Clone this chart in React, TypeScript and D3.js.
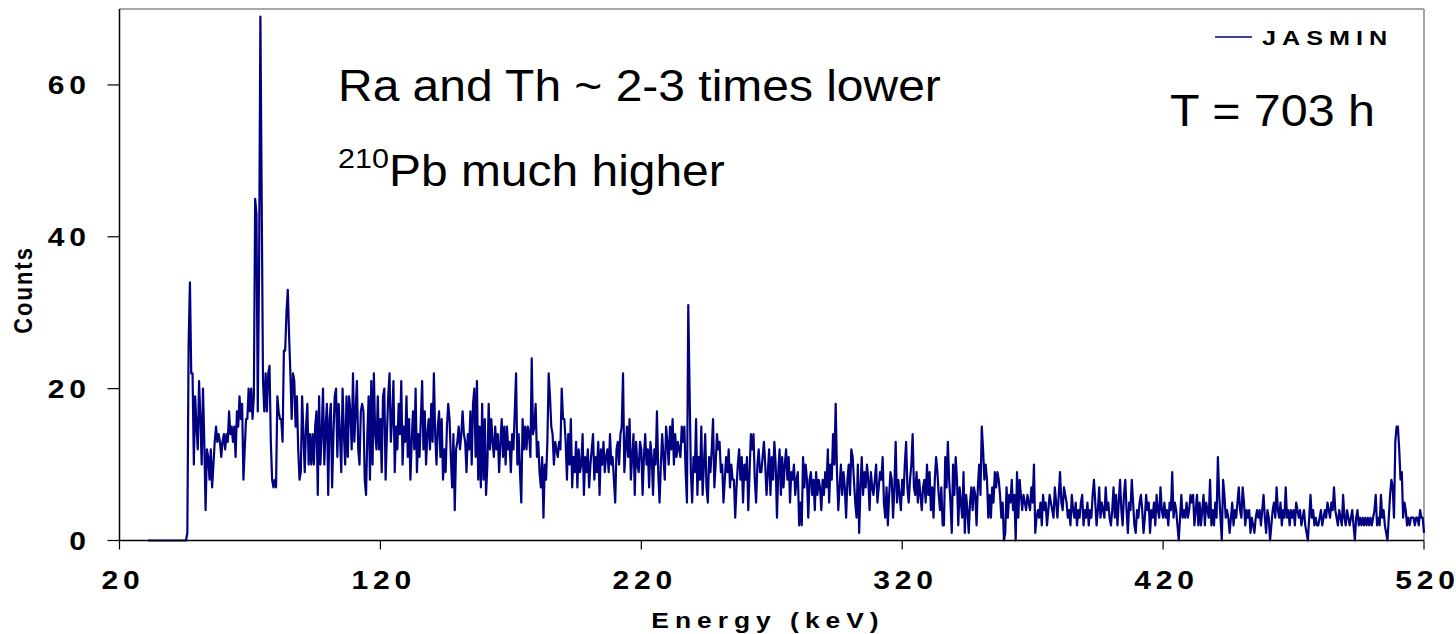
import React from "react";
import * as d3 from "d3";

const energyStart = 31;
const energyStep = 0.5;

// counts per 0.5 keV channel, starting at 31 keV (rows = 10 keV)
const leadZeros = [0,0,0,0,0,0,0,0,0,0,0,0,0,0,0,0,0,0,0,0,0,0,0,0,0,0,0,0,0,0];
const counts46to145 = [
  1,26,34,22,22,10,19,15,12,21,16,10,20,13,4,12,11,8,12,7,
  10,13,15,13,14,13,11,13,14,12,14,13,17,14,15,13,15,11,17,15,
  19,16,18,8,12,16,16,20,17,20,16,19,45,43,17,36,69,45,21,17,
  22,17,22,23,13,8,7,8,7,19,17,16,16,13,25,25,30,33,27,22,
  16,22,21,15,19,12,8,9,19,14,9,15,18,10,14,10,14,10,15,17,
  6,19,10,14,20,10,15,18,6,16,18,7,14,19,20,11,18,14,9,20,
  14,10,19,11,19,17,12,22,13,17,21,12,10,17,18,17,8,6,14,19,
  8,21,10,22,14,12,19,12,16,9,19,20,8,14,19,22,13,16,21,9,
  15,12,18,14,21,10,15,13,19,11,16,8,13,17,12,20,9,14,11,16,
  21,12,17,10,14,16,12,18,13,22,14,10,15,17,11,16,8,12,9,15,
];
const counts146to245 = [
  18,16,11,7,14,4,12,13,15,12,14,17,14,13,9,14,12,17,10,18,
  20,11,21,8,15,7,18,8,16,6,10,18,12,16,13,11,15,12,14,9,
  13,16,11,15,10,15,12,13,9,14,12,17,22,10,14,9,5,16,12,15,
  12,15,14,11,24,14,15,18,11,13,9,7,11,3,10,8,13,22,19,15,
  14,10,13,12,11,13,12,20,16,16,13,8,14,10,16,7,11,9,13,7,
  12,9,10,14,6,11,9,12,7,10,12,14,8,11,9,13,6,12,10,13,
  9,11,12,9,14,10,11,8,5,12,13,10,14,15,22,9,12,15,11,16,
  8,11,14,6,13,10,9,13,12,6,11,14,10,12,7,13,11,6,12,10,
  17,9,5,10,14,11,8,15,13,10,15,12,16,10,14,11,13,12,11,15,
  13,15,9,5,31,20,9,5,11,9,16,6,11,8,15,6,10,14,7,5,
];
const counts246to345 = [
  11,9,12,16,7,10,14,12,13,9,10,5,8,11,9,12,7,10,8,8,
  3,7,10,12,8,11,5,10,8,11,4,9,14,12,14,8,5,10,12,9,
  9,11,13,10,6,9,12,6,11,8,13,10,3,9,12,6,11,7,10,12,
  8,11,5,9,8,10,6,8,9,2,5,2,11,7,10,8,3,8,9,6,
  8,4,9,6,8,7,4,8,6,9,7,12,5,10,8,14,10,18,9,4,
  7,10,6,9,7,3,8,10,6,12,11,8,5,3,10,1,7,11,6,9,
  7,10,8,4,9,7,6,8,10,5,7,9,8,11,5,3,7,2,6,9,
  8,3,7,13,5,8,6,4,8,6,10,13,7,5,8,10,14,7,6,9,
  5,8,6,4,7,8,5,10,6,9,4,7,3,8,11,9,6,4,7,2,
  2,11,7,13,8,5,1,10,6,11,8,2,7,5,3,9,1,6,4,1,
];
const counts346to445 = [
  5,7,4,7,6,2,7,10,6,15,12,8,10,8,3,6,3,7,5,9,
  7,9,8,6,3,5,0,1,7,3,6,5,8,4,6,0,9,3,8,6,
  4,6,5,4,6,5,4,7,5,10,1,3,4,3,5,2,6,4,5,2,
  4,6,5,4,3,7,5,3,6,9,5,4,7,6,5,3,4,2,6,4,
  3,5,2,4,3,5,6,2,4,3,5,2,4,3,6,8,5,2,4,7,
  3,5,4,3,7,4,5,3,2,4,7,3,6,2,5,8,4,2,6,8,
  4,1,5,4,8,5,2,1,4,3,5,6,4,1,3,6,4,5,1,4,
  3,5,2,6,4,3,7,4,3,5,3,4,2,5,4,9,3,5,4,2,
  0,3,6,3,4,3,5,3,4,6,5,6,2,4,6,2,5,2,4,6,
  2,5,4,3,8,2,4,2,5,3,11,6,3,0,8,6,3,4,3,1,
];
const counts446to520 = [
  3,5,2,4,3,5,7,4,3,7,5,2,4,3,4,1,3,2,1,3,
  4,3,4,2,4,6,3,1,4,3,0,2,4,5,3,7,4,3,5,2,
  4,3,7,3,4,2,4,3,4,2,5,4,3,4,2,3,4,2,1,0,
  3,6,3,4,2,3,2,2,3,4,2,3,4,3,5,4,3,5,4,7,
  4,3,2,4,3,2,6,3,2,4,3,2,3,4,2,0,3,4,2,3,
  2,3,2,3,2,3,2,3,2,3,4,6,2,3,2,6,3,4,2,1,
  0,3,6,8,7,3,13,15,15,12,8,9,3,5,4,2,3,2,3,3,
  3,2,3,3,2,4,3,3,1,
];

const counts = [
  ...leadZeros,
  ...counts46to145,
  ...counts146to245,
  ...counts246to345,
  ...counts346to445,
  ...counts446to520,
];

const xDomain = [20, 520];
const yDomain = [0, 70];
const xTicks = [20, 120, 220, 320, 420, 520];
const yTicks = [0, 20, 40, 60];
const seriesName = "JASMIN";
const xTitle = "Energy (keV)";
const yTitle = "Counts";

const W = 1456;
const H = 634;
const L = 119.5, R = 1424, T = 9, B = 540.5;
const FONT = "'Liberation Sans', Arial, sans-serif";

function SText({ x, y, size, weight = "normal", spacing = 0, sx = 1.2, anchor = "start", children }: any) {
  return (
    <text
      transform={`translate(${x},${y}) scale(${sx},1)`}
      fontFamily={FONT}
      fontSize={size}
      fontWeight={weight}
      letterSpacing={spacing}
      textAnchor={anchor}
      fill="#000"
    >
      {children}
    </text>
  );
}

// spaced text without trailing spacing (gaps only between characters)
function GapText({ x, y, size, gap, sx = 1.2, anchor = "middle", text }: any) {
  const chars = String(text).split("");
  return (
    <text
      transform={`translate(${x},${y}) scale(${sx},1)`}
      fontFamily={FONT}
      fontSize={size}
      fontWeight="bold"
      textAnchor={anchor}
      fill="#000"
    >
      {chars.map((c, i) => (
        <tspan key={i} dx={i === 0 ? 0 : gap}>
          {c}
        </tspan>
      ))}
    </text>
  );
}

export default function App() {
  const x = d3.scaleLinear().domain(xDomain).range([L, R]);
  const y = d3.scaleLinear().domain(yDomain).range([B, T]);
  const line = d3
    .line<number>()
    .x((_, i) => x(energyStart + i * energyStep))
    .y((d) => y(d));

  return (
    <svg width={W} height={H} style={{ position: "absolute", left: 0, top: 0, background: "#fff" }}>
      <rect x={0} y={0} width={W} height={H} fill="#fff" />
      {/* frame */}
      <line x1={L} y1={T} x2={R} y2={T} stroke="#8a8a8a" strokeWidth={1.5} />
      <line x1={R} y1={T} x2={R} y2={B} stroke="#8a8a8a" strokeWidth={1.5} />
      {/* data */}
      <path d={line(counts) || ""} fill="none" stroke="#000080" strokeWidth={2.2} strokeLinejoin="round" />
      {/* axes */}
      <line x1={L} y1={T} x2={L} y2={B} stroke="#000" strokeWidth={1.5} />
      <line x1={L} y1={B} x2={R} y2={B} stroke="#000" strokeWidth={1.5} />
      {yTicks.map((t) => (
        <g key={"y" + t}>
          <line x1={L - 12} x2={L} y1={y(t)} y2={y(t)} stroke="#000" strokeWidth={1.2} />
          <GapText x={86} y={y(t) + 9} size={25} gap={4} anchor="end" text={t} />
        </g>
      ))}
      {xTicks.map((t) => (
        <g key={"x" + t}>
          <line x1={x(t)} x2={x(t)} y1={B} y2={B + 9} stroke="#000" strokeWidth={1.2} />
          <GapText x={x(t) + 1} y={589} size={25} gap={4} anchor="middle" text={t} />
        </g>
      ))}
      <SText x={768} y={628} size={22} weight="bold" spacing={5} sx={1.2} anchor="middle">
        {xTitle}
      </SText>
      <text
        transform={`translate(32,290) rotate(-90) scale(1,1.2)`}
        fontFamily={FONT}
        fontSize={22}
        fontWeight="bold"
        letterSpacing={2}
        textAnchor="middle"
      >
        {yTitle}
      </text>
      {/* legend */}
      <line x1={1215} x2={1252} y1={37} y2={37} stroke="#000080" strokeWidth={1.5} />
      <SText x={1262} y={45} size={21} weight="bold" spacing={5} sx={1.2}>
        {seriesName}
      </SText>
      {/* annotations */}
      <SText x={338} y={101} size={44} sx={1.09}>Ra and Th ~ 2-3 times lower</SText>
      <text transform={`translate(338,186) scale(1.09,1)`} fontFamily={FONT} fill="#000">
        <tspan fontSize={28} dy={-18}>210</tspan>
        <tspan fontSize={44} dy={18}>Pb much higher</tspan>
      </text>
      <SText x={1170} y={126} size={44} sx={1.1}>T = 703 h</SText>
    </svg>
  );
}
